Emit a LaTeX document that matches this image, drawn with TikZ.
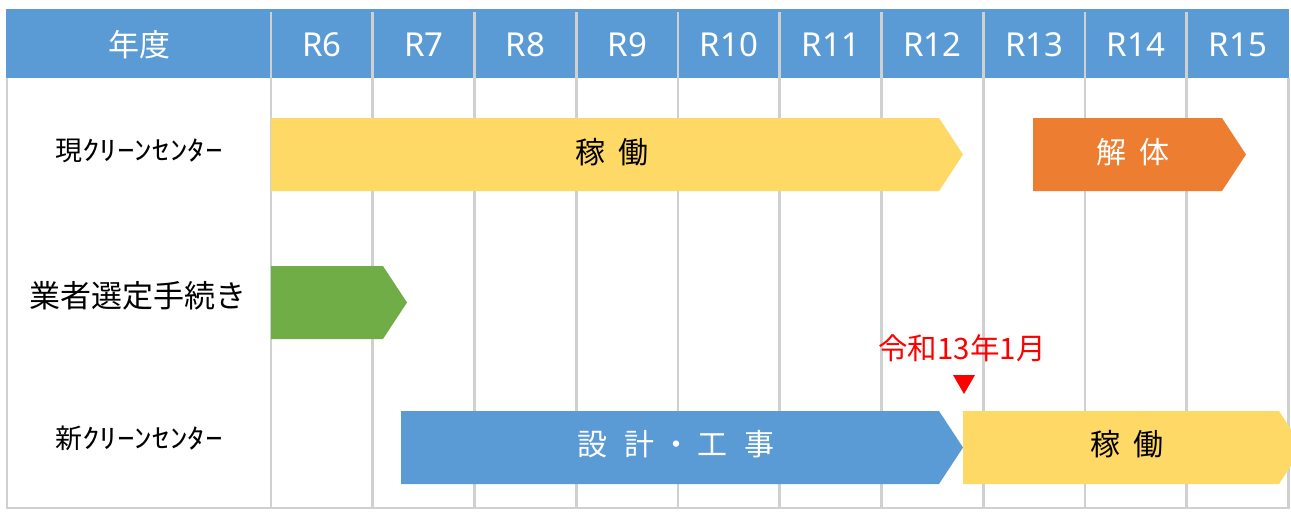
\documentclass[tikz,border=0pt]{standalone}
\usepackage{fontspec}
\setmainfont{Noto Sans CJK JP}
\newfontfamily\latinf{Noto Sans}
\usepackage{graphicx}
\definecolor{hdrblue}{HTML}{5B9BD5}
\definecolor{gridgray}{HTML}{D0D0D0}
\definecolor{barylw}{HTML}{FFD966}
\definecolor{barorg}{HTML}{ED7D31}
\definecolor{bargrn}{HTML}{70AD47}
\definecolor{barblu}{HTML}{5B9BD5}
\definecolor{markred}{HTML}{FF0000}
\tikzset{
  gridline/.style={draw=gridgray, line width=2.6pt},
  hdrtext/.style={text=white, font=\latinf\fontsize{33}{36}\selectfont, inner sep=0pt},
  hdrjp/.style={text=white, font=\fontsize{31}{36}\selectfont, inner sep=0pt},
  rowlabel/.style={text=black, font=\fontsize{27}{30}\selectfont, inner sep=0pt},
  rowlabelbig/.style={text=black, font=\fontsize{31}{36}\selectfont, inner sep=0pt},
  bartextdark/.style={text=black, font=\fontsize{30}{36}\selectfont, inner sep=0pt},
  bartextlight/.style={text=white, font=\fontsize{30}{36}\selectfont, inner sep=0pt},
  marktext/.style={text=markred, font=\fontsize{29.5}{34}\selectfont, inner sep=0pt},
}
\begin{document}
\begin{tikzpicture}[x=1pt,y=-1pt]
\useasboundingbox (0,0) rectangle (1291,514);
\clip (0,0) rectangle (1291,514);
% header
\fill[hdrblue] (6,9) rectangle (1289,78);
% grid
\foreach \i in {0,...,9}
  \draw[gridline] ({271+101.75*\i},12) -- ({271+101.75*\i},508);
\draw[gridline] (7,78) -- (7,508) -- (1288.5,508) -- (1288.5,78);
% header labels
\node[hdrjp] (hyear) at (139,45) {年度};
\foreach \n [count=\i from 0] in {6,...,15}
  \node[hdrtext] (hR\n) at ({322+101.75*\i},45) {R\n};
% bars
\fill[barylw] (271,118) -- (939,118) -- (963,154.5) -- (939,191) -- (271,191) -- cycle;
\fill[barorg] (1033,118) -- (1222,118) -- (1246,154.5) -- (1222,191) -- (1033,191) -- cycle;
\fill[bargrn] (271,266) -- (383,266) -- (407,302.5) -- (383,339) -- (271,339) -- cycle;
\fill[barblu] (401,411) -- (939,411) -- (963,447.5) -- (939,484) -- (401,484) -- cycle;
\fill[barylw] (963,411) -- (1279,411) -- (1303,447.5) -- (1279,484) -- (963,484) -- cycle;
% bar texts
\node[bartextdark] (op1) at (612,152) {稼\hspace{0.45em}働};
\node[bartextlight] (demo) at (1133,152) {解\hspace{0.45em}体};
\node[bartextlight] (build) at (676,444) {設\hspace{0.55em}計\hspace{0.22em}・\hspace{0.22em}工\hspace{0.55em}事};
\node[bartextdark] (op2) at (1127,444) {稼\hspace{0.45em}働};
% row labels
\node[rowlabel] (row1) at (139,151) {現\scalebox{1.3}[1]{ｸﾘｰﾝｾﾝﾀｰ}};
\node[rowlabelbig] (row2) at (138,296) {業者選定手続き};
\node[rowlabel] (row3) at (139,438) {新\scalebox{1.3}[1]{ｸﾘｰﾝｾﾝﾀｰ}};
% marker
\node[marktext] (mark) at (962,348) {令和13年1月};
\fill[markred] (953,375) -- (975,375) -- (964,394) -- cycle;
\end{tikzpicture}
\end{document}
